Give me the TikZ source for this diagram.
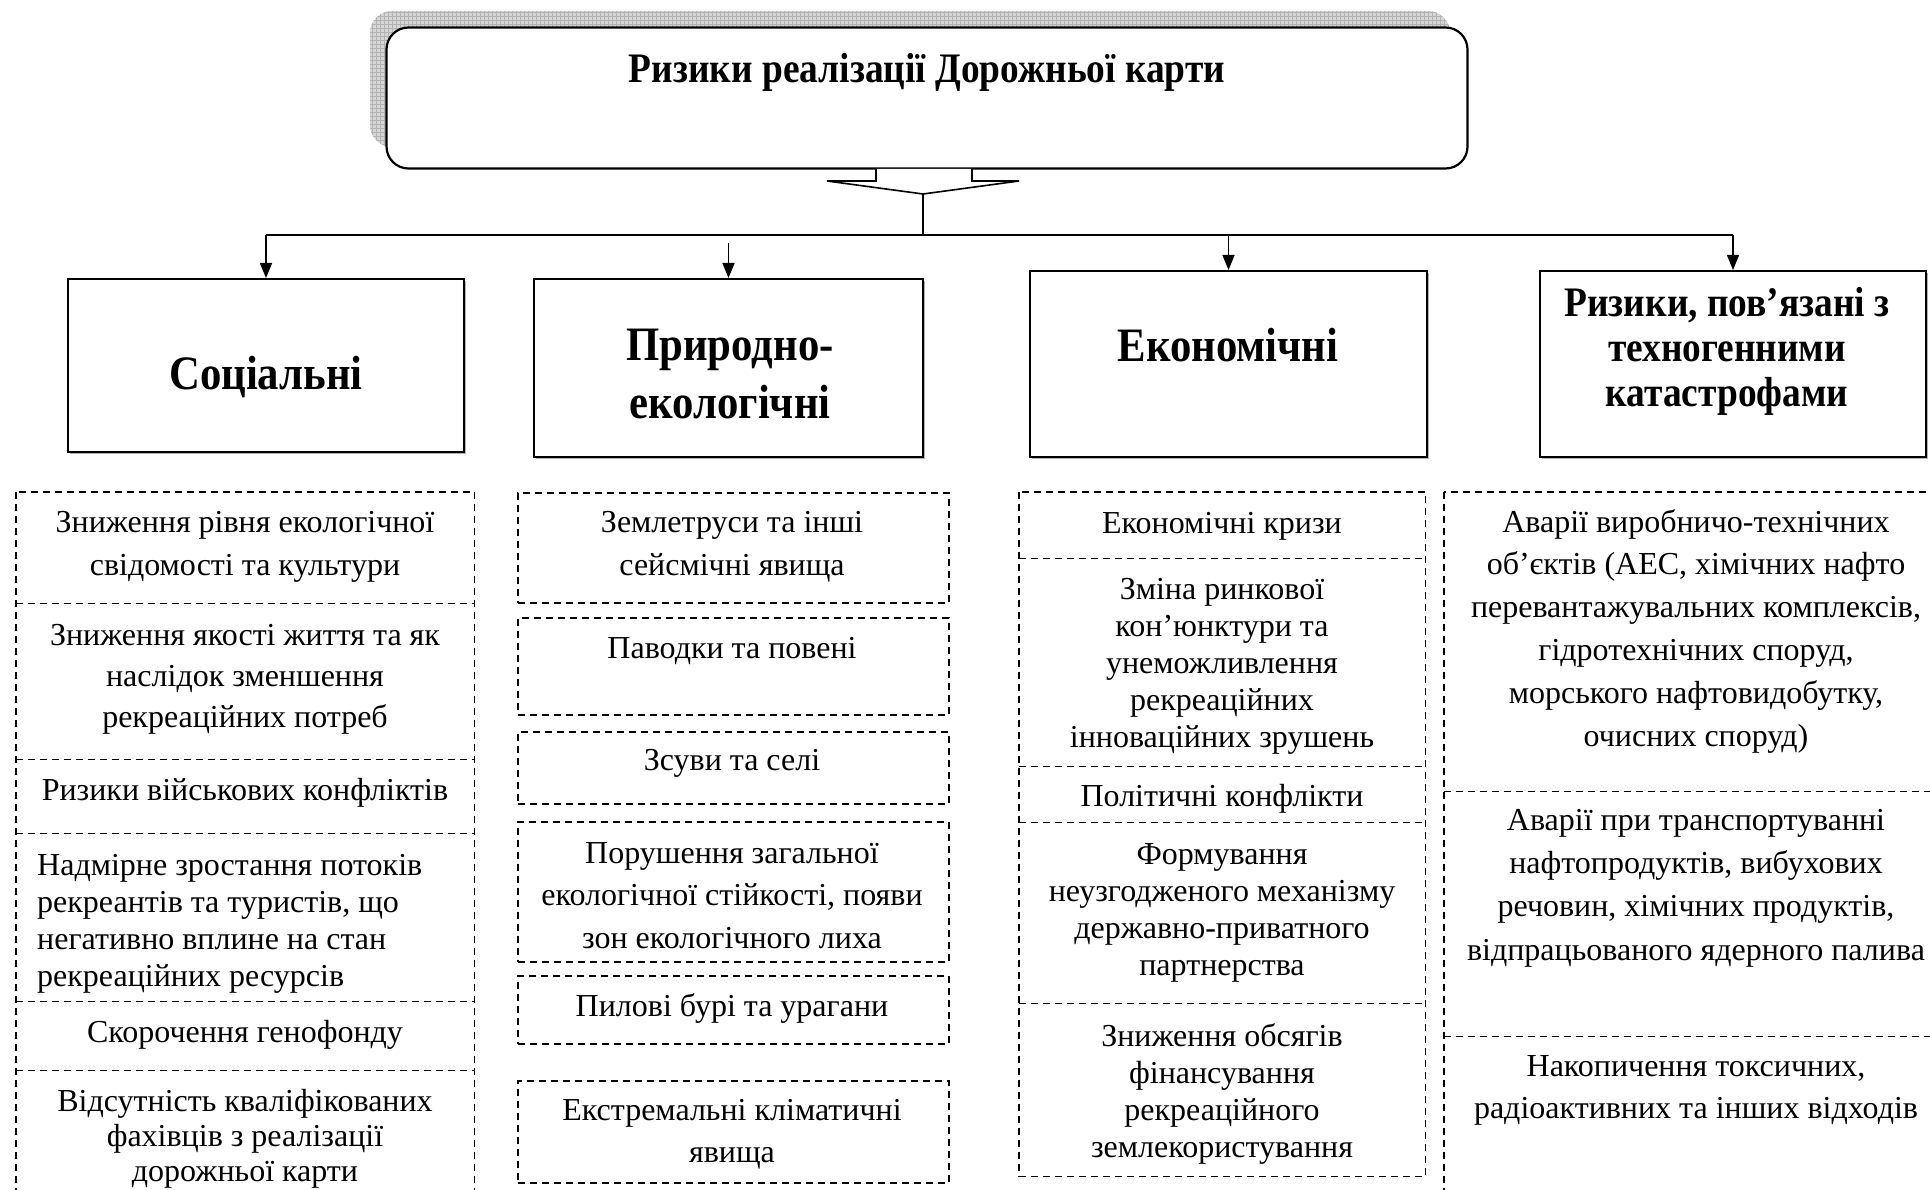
\documentclass[tikz,border=0pt]{standalone}
\usepackage{fontspec}
\setmainfont{Liberation Serif}
\newfontfamily\headfont[FakeStretch=0.89]{Liberation Serif}
\usetikzlibrary{arrows.meta,shadows}

\tikzset{
  catbox/.style={draw=black, line width=2pt, fill=white, rectangle, inner sep=0pt,
    drop shadow={shadow xshift=2pt, shadow yshift=-2pt, fill=gray!60, opacity=1}},
  dline/.style={draw=black, line width=1.7pt, dash pattern=on 7pt off 5pt},
  cell/.style={rectangle, inner sep=0pt, anchor=north west},
  dbox/.style={cell, dline},
  body/.style={font=\fontsize{32}{#1}\selectfont, align=center, inner sep=0pt},
  body/.default=43,
  head/.style={font=\headfont\bfseries\fontsize{48}{58}\selectfont, align=center, inner sep=0pt},
  link/.style={line width=1.6pt},
  arr/.style={line width=1.6pt, -{Triangle[length=15pt,width=12pt]}},
}

\begin{document}
\begin{tikzpicture}[x=1pt,y=-1pt]
\useasboundingbox (0,0) rectangle (1930,1190);
\clip (0,0) rectangle (1930,1190);

% ---------- title box with hatched shadow ----------
\begin{scope}
  \clip[rounded corners=22pt] (370,11) rectangle (1450,147);
  \fill[gray!32] (370,11) rectangle (1450,147);
  \draw[gray!60, line width=0.8pt, step=4pt] (368,9) grid (1452,149);
\end{scope}
\node[draw=black, line width=2.2pt, fill=white, rounded corners=22pt,
      minimum width=1081pt, minimum height=141pt, inner sep=0pt] (title) at (927,98) {};
\node[font=\headfont\bfseries\fontsize{42}{48}\selectfont, inner sep=0pt] (ttext) at (927,72)
  {Ризики реалізації Дорожньої карти};

% ---------- block arrow under the title ----------
\coordinate (tip) at (923,194);
\draw[line width=1.6pt, fill=white] (876,169) -- (876,181) -- (827,181) -- (tip)
  -- (1019,181) -- (972,181) -- (972,169);

% ---------- category boxes ----------
\node[catbox, minimum width=396pt, minimum height=173pt] (soc) at (266,365.5) {};
\node[catbox, minimum width=389pt, minimum height=178pt] (pri) at (728.5,368) {};
\node[catbox, minimum width=397pt, minimum height=186pt] (eco) at (1228.5,364) {};
\node[catbox, minimum width=386pt, minimum height=186pt] (tech) at (1733,364) {};

\node[head] (socT) at (266,377) {Соціальні};
\node[head] (priT) at (730,374.5) {Природно-\\екологічні};
\node[head] (ecoT) at (1228,345) {Економічні};
\node[head, font=\headfont\bfseries\fontsize{42}{45}\selectfont] (techT) at (1727,351)
  {Ризики, пов’язані з\\техногенними\\катастрофами};

% ---------- connectors ----------
\coordinate (bus) at (923,235);
\coordinate (busL) at (266,235);
\coordinate (busR) at (1733,235);
\coordinate (pfree) at (728.5,243);
\draw[link] (tip) -- (bus);
\draw[link] (busL) -- (busR);
\draw[arr] (busL) -- (soc.north);
\draw[arr] (pfree) -- (pri.north);
\draw[arr] (bus -| eco.north) -- (eco.north);
\draw[arr] (busR) -- (tech.north);

% ---------- social risks ----------
\node[cell, minimum width=458pt, minimum height=111pt] (s1) at (16,492) {};
\node[cell, minimum width=458pt, minimum height=156pt] (s2) at (16,603) {};
\node[cell, minimum width=458pt, minimum height=74pt]  (s3) at (16,759) {};
\node[cell, minimum width=458pt, minimum height=168pt] (s4) at (16,833) {};
\node[cell, minimum width=458pt, minimum height=69pt]  (s5) at (16,1001) {};
\node[cell, minimum width=458pt, minimum height=150pt] (s6) at (16,1070) {};
\draw[dline] (s1.north west) rectangle (s6.south east);
\foreach \c in {s1,s2,s3,s4,s5}
  \draw[dline] (\c.south west) -- (\c.south east);

\node[body] (s1t) at (245,546.5) {Зниження рівня екологічної\\свідомості та культури};
\node[body=41] (s2t) at (245,679) {Зниження якості життя та як\\наслідок зменшення\\рекреаційних потреб};
\node[body] (s3t) at (245,793) {Ризики військових конфліктів};
\node[body=37, align=left, anchor=west] (s4t) at (37,923.5) {Надмірне зростання потоків\\рекреантів та туристів, що\\негативно вплине на стан\\рекреаційних ресурсів};
\node[body] (s5t) at (245,1035) {Скорочення генофонду};
\node[body=35] (s6t) at (245,1139) {Відсутність кваліфікованих\\фахівців з реалізації\\дорожньої карти};

% ---------- natural and ecological risks ----------
\node[dbox, minimum width=431pt, minimum height=110pt] (n1) at (517,492) {};
\node[dbox, minimum width=431pt, minimum height=97pt]  (n2) at (517,617) {};
\node[dbox, minimum width=431pt, minimum height=72pt]  (n3) at (517,731) {};
\node[dbox, minimum width=431pt, minimum height=140pt] (n4) at (517,821) {};
\node[dbox, minimum width=431pt, minimum height=68pt]  (n5) at (517,975) {};
\node[dbox, minimum width=431pt, minimum height=102pt] (n6) at (517,1080) {};

\node[body] (n1t) at (732,546.5) {Землетруси та інші\\сейсмічні явища};
\node[body] (n2t) at (732,651) {Паводки та повені};
\node[body] (n3t) at (732,763) {Зсуви та селі};
\node[body=42.5] (n4t) at (732,895.5) {Порушення загальної\\екологічної стійкості, появи\\зон екологічного лиха};
\node[body] (n5t) at (732,1008) {Пилові бурі та урагани};
\node[body=42] (n6t) at (732,1134) {Екстремальні кліматичні\\явища};

% ---------- economic risks ----------
\node[cell, minimum width=406pt, minimum height=66pt]  (e1) at (1019,492) {};
\node[cell, minimum width=406pt, minimum height=208pt] (e2) at (1019,558) {};
\node[cell, minimum width=406pt, minimum height=56pt]  (e3) at (1019,766) {};
\node[cell, minimum width=406pt, minimum height=181pt] (e4) at (1019,822) {};
\node[cell, minimum width=406pt, minimum height=173pt] (e5) at (1019,1003) {};
\draw[dline] (e1.north west) rectangle (e5.south east);
\foreach \c in {e1,e2,e3,e4}
  \draw[dline] (\c.south west) -- (\c.south east);

\node[body] (e1t) at (1222,526) {Економічні кризи};
\node[body=37] (e2t) at (1222,666) {Зміна ринкової\\кон’юнктури та\\унеможливлення\\рекреаційних\\інноваційних зрушень};
\node[body] (e3t) at (1222,799) {Політичні конфлікти};
\node[body=37] (e4t) at (1222,912.5) {Формування\\неузгодженого механізму\\державно-приватного\\партнерства};
\node[body=37] (e5t) at (1222,1093.5) {Зниження обсягів\\фінансування\\рекреаційного\\землекористування};

% ---------- technogenic risks ----------
\node[cell, minimum width=506pt, minimum height=299pt] (c1) at (1444,492) {};
\node[cell, minimum width=506pt, minimum height=245pt] (c2) at (1444,791) {};
\node[cell, minimum width=506pt, minimum height=180pt] (c3) at (1444,1036) {};
\draw[dline] (c1.north west) rectangle (c3.south east);
\foreach \c in {c1,c2}
  \draw[dline] (\c.south west) -- (\c.south east);

\node[body=42.8] (c1t) at (1696,631) {Аварії виробничо-технічних\\об’єктів (АЕС, хімічних нафто\\перевантажувальних комплексів,\\гідротехнічних споруд,\\морського нафтовидобутку,\\очисних споруд)};
\node[body=43.3] (c2t) at (1696,888) {Аварії при транспортуванні\\нафтопродуктів, вибухових\\речовин, хімічних продуктів,\\відпрацьованого ядерного палива};
\node[body=42] (c3t) at (1696,1090) {Накопичення токсичних,\\радіоактивних та інших відходів};
\end{tikzpicture}
\end{document}
